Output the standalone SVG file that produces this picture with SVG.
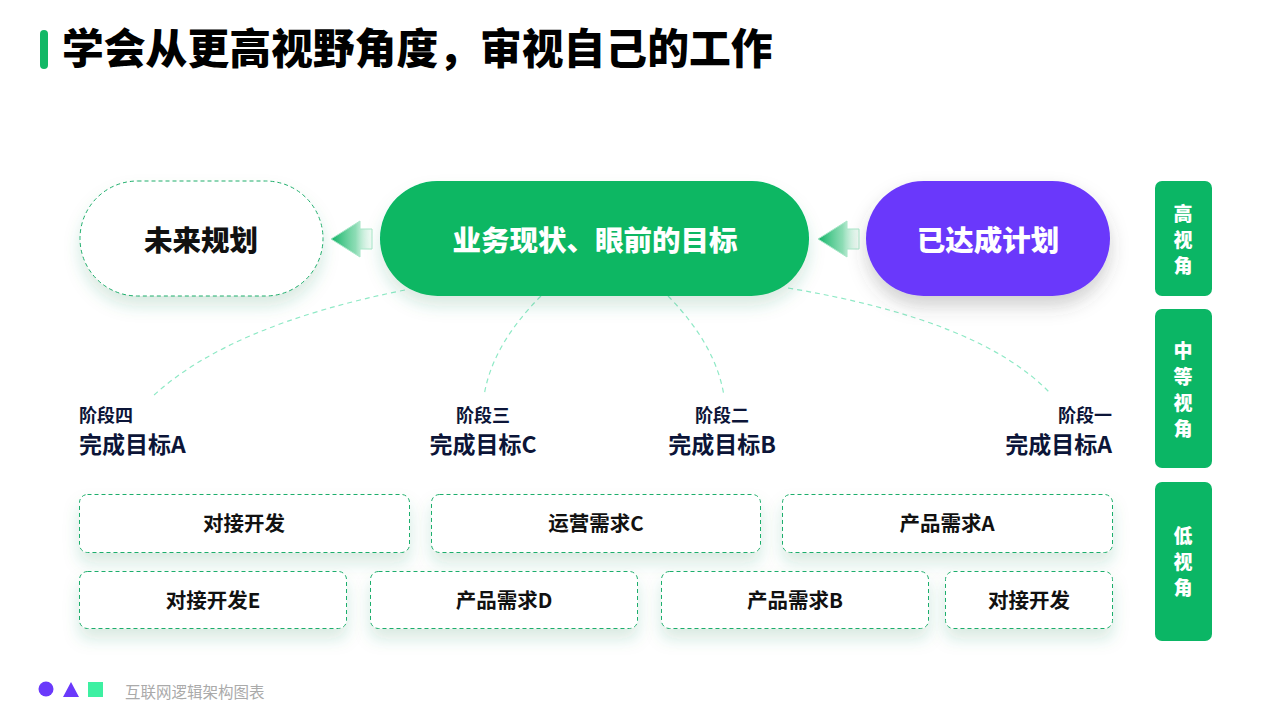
<svg xmlns="http://www.w3.org/2000/svg" width="1280" height="720" viewBox="0 0 1280 720">
  <defs>
    <style>
      text { font-family: "Noto Sans CJK SC", "Noto Sans", sans-serif; font-weight: 700; }
      .title { font-size: 41.8px; fill: #000; font-weight: 900; }
      .big { font-size: 28.5px; text-anchor: middle; dominant-baseline: central; font-weight: 900; }
      .stage { font-size: 18px; fill: #0c1538; }
      .goal { font-size: 23px; fill: #0c1538; }
      .box { fill: #fff; stroke: #1fae6c; stroke-width: 1; stroke-dasharray: 4 3; filter: url(#sh); }
      .boxt { font-size: 20.5px; fill: #111; text-anchor: middle; dominant-baseline: central; }
      .side { fill: #0bb665; }
      .sidet { font-size: 19px; fill: #fff; text-anchor: middle; dominant-baseline: central; font-weight: 900; }
      .curve { fill: none; stroke: #8fe9c6; stroke-width: 1.2; stroke-dasharray: 5 4; }
      .arrow { fill: url(#ag); stroke: #a8e6c8; stroke-width: 1; }
    </style>
    <filter id="sh" x="-20%" y="-30%" width="140%" height="190%">
      <feDropShadow dx="0" dy="10" stdDeviation="8" flood-color="#2a8a5a" flood-opacity="0.18"/>
    </filter>
    <filter id="shp" x="-20%" y="-30%" width="140%" height="190%">
      <feDropShadow dx="0" dy="10" stdDeviation="9" flood-color="#444" flood-opacity="0.25"/>
    </filter>
    <linearGradient id="ag" x1="0" y1="0" x2="1" y2="0">
      <stop offset="0" stop-color="#0fb466"/>
      <stop offset="0.6" stop-color="#5ccd95" stop-opacity="0.7"/>
      <stop offset="1" stop-color="#d8f3e5" stop-opacity="0.3"/>
    </linearGradient>
  </defs>

  <rect width="1280" height="720" fill="#fff"/>

  <g id="title">
    <rect x="40" y="30" width="8" height="39" rx="4" fill="#12b866"/>
    <text class="title" x="62" y="64">学会从更高视野角度，审视自己的工作</text>
  </g>

  <g id="connectors">
    <path class="curve" d="M405,290 Q230,325 153,396"/>
    <path class="curve" d="M541,296 Q492,345 484,396"/>
    <path class="curve" d="M668,296 Q716,345 724,396"/>
    <path class="curve" d="M788,288 Q980,320 1050,393"/>
    <polygon class="arrow" points="331,239 360,221 360,229 372,229 372,249 360,249 360,257"/>
    <polygon class="arrow" points="818,239 847,221 847,229 859,229 859,249 847,249 847,257"/>
  </g>

  <g id="node-future">
    <rect x="80" y="181" width="243" height="115" rx="57.5" fill="#fff" stroke="#1fae6c" stroke-width="1" stroke-dasharray="4 3" filter="url(#sh)"/>
    <text class="big" x="201" y="238" fill="#111">未来规划</text>
  </g>
  <g id="node-current">
    <rect x="380" y="181" width="429" height="115" rx="57.5" fill="#07b764" filter="url(#sh)"/>
    <text class="big" x="595" y="238" fill="#fff">业务现状、眼前的目标</text>
  </g>
  <g id="node-done">
    <rect x="866" y="181" width="244" height="115" rx="57.5" fill="#6a39fb" filter="url(#shp)"/>
    <text class="big" x="988" y="238" fill="#fff">已达成计划</text>
  </g>

  <g id="stage4">
    <text class="stage" x="79" y="422">阶段四</text>
    <text class="goal" x="79" y="453">完成目标A</text>
  </g>
  <g id="stage3">
    <text class="stage" x="483" y="422" text-anchor="middle">阶段三</text>
    <text class="goal" x="483" y="453" text-anchor="middle">完成目标C</text>
  </g>
  <g id="stage2">
    <text class="stage" x="722" y="422" text-anchor="middle">阶段二</text>
    <text class="goal" x="722" y="453" text-anchor="middle">完成目标B</text>
  </g>
  <g id="stage1">
    <text class="stage" x="1112" y="422" text-anchor="end">阶段一</text>
    <text class="goal" x="1112" y="453" text-anchor="end">完成目标A</text>
  </g>

  <g id="box-r1-1"><rect class="box" x="79.5" y="494.5" width="330" height="58" rx="8"/><text class="boxt" x="244" y="522">对接开发</text></g>
  <g id="box-r1-2"><rect class="box" x="431.5" y="494.5" width="329" height="58" rx="8"/><text class="boxt" x="596" y="522">运营需求C</text></g>
  <g id="box-r1-3"><rect class="box" x="782.5" y="494.5" width="330" height="58" rx="8"/><text class="boxt" x="947" y="522">产品需求A</text></g>
  <g id="box-r2-1"><rect class="box" x="79.5" y="571.5" width="267" height="57" rx="8"/><text class="boxt" x="213" y="599">对接开发E</text></g>
  <g id="box-r2-2"><rect class="box" x="370.5" y="571.5" width="267" height="57" rx="8"/><text class="boxt" x="504" y="599">产品需求D</text></g>
  <g id="box-r2-3"><rect class="box" x="661.5" y="571.5" width="267" height="57" rx="8"/><text class="boxt" x="795" y="599">产品需求B</text></g>
  <g id="box-r2-4"><rect class="box" x="945.5" y="571.5" width="167" height="57" rx="8"/><text class="boxt" x="1029" y="599">对接开发</text></g>

  <g id="side-high">
    <rect class="side" x="1155" y="181" width="57" height="115" rx="7"/>
    <text class="sidet" x="1183" y="212">高</text>
    <text class="sidet" x="1183" y="238">视</text>
    <text class="sidet" x="1183" y="264">角</text>
  </g>
  <g id="side-mid">
    <rect class="side" x="1155" y="309" width="57" height="159" rx="7"/>
    <text class="sidet" x="1183" y="349">中</text>
    <text class="sidet" x="1183" y="375">等</text>
    <text class="sidet" x="1183" y="401">视</text>
    <text class="sidet" x="1183" y="427">角</text>
  </g>
  <g id="side-low">
    <rect class="side" x="1155" y="482" width="57" height="159" rx="7"/>
    <text class="sidet" x="1183" y="534">低</text>
    <text class="sidet" x="1183" y="560">视</text>
    <text class="sidet" x="1183" y="586">角</text>
  </g>

  <g id="footer">
    <circle cx="46" cy="689" r="7.5" fill="#6a39fb"/>
    <polygon points="63,697 71,682 79,697" fill="#6a39fb"/>
    <rect x="88" y="682" width="15" height="15" fill="#3df0a2"/>
    <text x="125" y="698" font-size="15.5" fill="#aaa" style="font-weight:400">互联网逻辑架构图表</text>
  </g>
</svg>
